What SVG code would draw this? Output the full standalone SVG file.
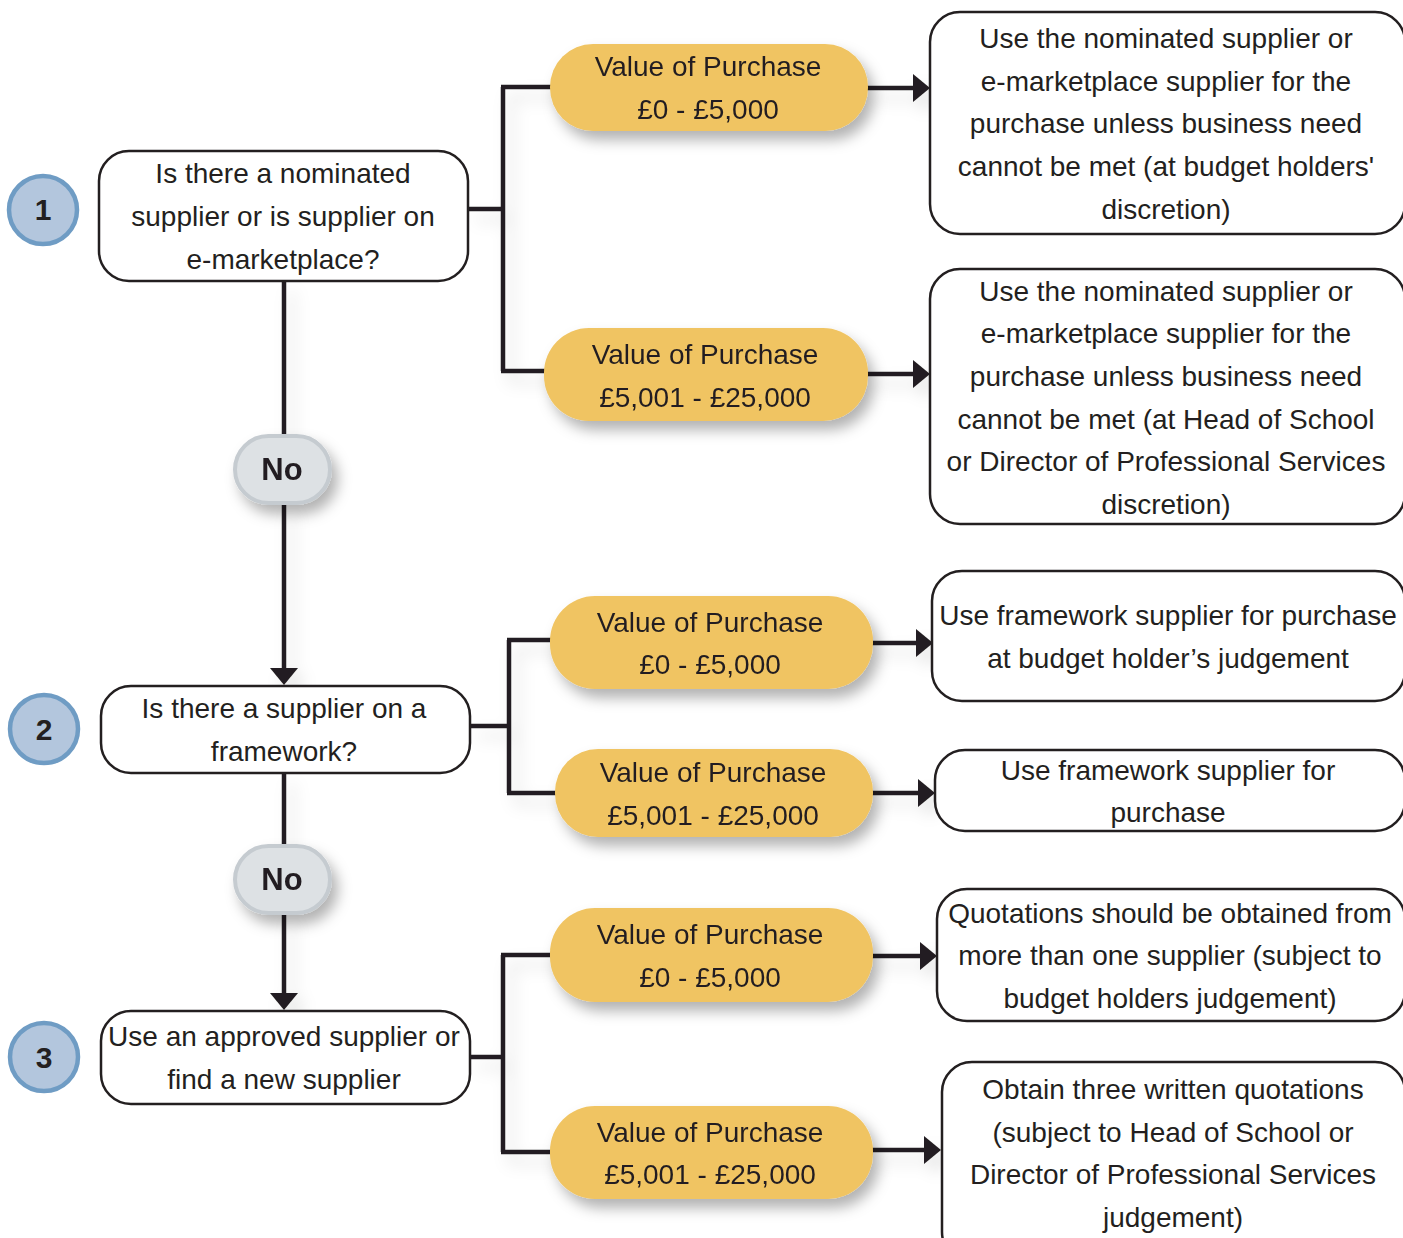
<svg xmlns="http://www.w3.org/2000/svg" width="1403" height="1238" viewBox="0 0 1403 1238">
<defs>
<style>
text{font-family:"Liberation Sans",Arial,sans-serif;fill:#231f20;text-anchor:middle}
.t{font-size:28px}
.b{font-size:31px;font-weight:bold}
.n{font-size:30px;font-weight:bold}
.box{fill:#fff;stroke:#231f20;stroke-width:2.5}
.val{fill:#f0c462}
.no{fill:#dde1e4;stroke:#c5cbd0;stroke-width:4}
.num{fill:#b3c6dd;stroke:#6f9cc4;stroke-width:4.5}
.ln{fill:none;stroke:#231f20;stroke-width:4.5}
.ar{fill:none;stroke:#231f20;stroke-width:4.5;marker-end:url(#ah)}
</style>
<marker id="ah" markerUnits="userSpaceOnUse" markerWidth="17" markerHeight="28" refX="7" refY="14" orient="auto">
<path d="M0,0 L17,14 L0,28 z" fill="#231f20"/>
</marker>
<filter id="sh" filterUnits="userSpaceOnUse" x="0" y="0" width="1403" height="1238">
<feDropShadow dx="6" dy="9" stdDeviation="7" flood-color="#000" flood-opacity="0.3"/>
</filter>
<filter id="shl" filterUnits="userSpaceOnUse" x="0" y="0" width="1403" height="1238">
<feDropShadow dx="8" dy="10" stdDeviation="8" flood-color="#000" flood-opacity="0.12"/>
</filter>
</defs>

<g id="connectors" filter="url(#shl)">
<path class="ln" d="M284,281 V436"/>
<path class="ar" d="M284,503 V675"/>
<path class="ln" d="M284,773 V846"/>
<path class="ar" d="M284,913 V1000"/>
<path class="ln" d="M468,209 H503 M503,87 V371 M501,87 H555 M501,371 H547"/>
<path class="ar" d="M866,88 H920"/>
<path class="ar" d="M866,374 H920"/>
<path class="ln" d="M470,726 H509 M509,640 V793 M507,640 H555 M507,793 H560"/>
<path class="ar" d="M871,643 H923"/>
<path class="ar" d="M871,793 H925"/>
<path class="ln" d="M470,1057 H503 M503,955 V1152 M501,955 H555 M501,1152 H555"/>
<path class="ar" d="M871,956 H927"/>
<path class="ar" d="M871,1150 H931"/>
</g>

<g id="step1"><circle class="num" cx="43" cy="210" r="34"/><text class="n" x="43" y="220">1</text></g>
<g id="step2"><circle class="num" cx="44" cy="729" r="34"/><text class="n" x="44" y="740">2</text></g>
<g id="step3"><circle class="num" cx="44" cy="1057" r="34"/><text class="n" x="44" y="1068">3</text></g>

<g id="q1"><rect class="box" x="99" y="151" width="369" height="130" rx="30"/>
<text class="t" x="283" y="183">Is there a nominated</text>
<text class="t" x="283" y="226">supplier or is supplier on</text>
<text class="t" x="283" y="269">e-marketplace?</text></g>

<g id="no1" filter="url(#sh)"><rect class="no" x="235" y="436" width="95" height="67" rx="33.5"/><text class="b" x="282" y="480">No</text></g>

<g id="q2"><rect class="box" x="101" y="686" width="369" height="87" rx="30"/>
<text class="t" x="284" y="718">Is there a supplier on a</text>
<text class="t" x="284" y="761">framework?</text></g>

<g id="no2" filter="url(#sh)"><rect class="no" x="235" y="846" width="95" height="67" rx="33.5"/><text class="b" x="282" y="890">No</text></g>

<g id="q3"><rect class="box" x="101" y="1011" width="369" height="93" rx="30"/>
<text class="t" x="284" y="1046">Use an approved supplier or</text>
<text class="t" x="284" y="1089">find a new supplier</text></g>

<g id="v1" filter="url(#sh)"><rect class="val" x="550" y="44" width="318" height="87" rx="43"/>
<text class="t" x="708" y="76">Value of Purchase</text>
<text class="t" x="708" y="119">£0 - £5,000</text></g>

<g id="v2" filter="url(#sh)"><rect class="val" x="544" y="328" width="324" height="93" rx="45"/>
<text class="t" x="705" y="364">Value of Purchase</text>
<text class="t" x="705" y="407">£5,001 - £25,000</text></g>

<g id="v3" filter="url(#sh)"><rect class="val" x="550" y="596" width="323" height="93" rx="45"/>
<text class="t" x="710" y="632">Value of Purchase</text>
<text class="t" x="710" y="674">£0 - £5,000</text></g>

<g id="v4" filter="url(#sh)"><rect class="val" x="555" y="749" width="318" height="88" rx="43"/>
<text class="t" x="713" y="782">Value of Purchase</text>
<text class="t" x="713" y="825">£5,001 - £25,000</text></g>

<g id="v5" filter="url(#sh)"><rect class="val" x="550" y="908" width="323" height="94" rx="45"/>
<text class="t" x="710" y="944">Value of Purchase</text>
<text class="t" x="710" y="987">£0 - £5,000</text></g>

<g id="v6" filter="url(#sh)"><rect class="val" x="550" y="1106" width="323" height="93" rx="45"/>
<text class="t" x="710" y="1142">Value of Purchase</text>
<text class="t" x="710" y="1184">£5,001 - £25,000</text></g>

<g id="r1"><rect class="box" x="930" y="12" width="475" height="222" rx="30"/>
<text class="t" x="1166" y="48">Use the nominated supplier or</text>
<text class="t" x="1166" y="91">e-marketplace supplier for the</text>
<text class="t" x="1166" y="133">purchase unless business need</text>
<text class="t" x="1166" y="176">cannot be met (at budget holders'</text>
<text class="t" x="1166" y="219">discretion)</text></g>

<g id="r2"><rect class="box" x="930" y="269" width="475" height="255" rx="30"/>
<text class="t" x="1166" y="301">Use the nominated supplier or</text>
<text class="t" x="1166" y="343">e-marketplace supplier for the</text>
<text class="t" x="1166" y="386">purchase unless business need</text>
<text class="t" x="1166" y="429">cannot be met (at Head of School</text>
<text class="t" x="1166" y="471">or Director of Professional Services</text>
<text class="t" x="1166" y="514">discretion)</text></g>

<g id="r3"><rect class="box" x="932" y="571" width="473" height="130" rx="30"/>
<text class="t" x="1168" y="625">Use framework supplier for purchase</text>
<text class="t" x="1168" y="668">at budget holder’s judgement</text></g>

<g id="r4"><rect class="box" x="935" y="750" width="470" height="81" rx="30"/>
<text class="t" x="1168" y="780">Use framework supplier for</text>
<text class="t" x="1168" y="822">purchase</text></g>

<g id="r5"><rect class="box" x="937" y="889" width="468" height="132" rx="30"/>
<text class="t" x="1170" y="923">Quotations should be obtained from</text>
<text class="t" x="1170" y="965">more than one supplier (subject to</text>
<text class="t" x="1170" y="1008">budget holders judgement)</text></g>

<g id="r6"><rect class="box" x="942" y="1062" width="463" height="200" rx="30"/>
<text class="t" x="1173" y="1099">Obtain three written quotations</text>
<text class="t" x="1173" y="1142">(subject to Head of School or</text>
<text class="t" x="1173" y="1184">Director of Professional Services</text>
<text class="t" x="1173" y="1227">judgement)</text></g>
</svg>
